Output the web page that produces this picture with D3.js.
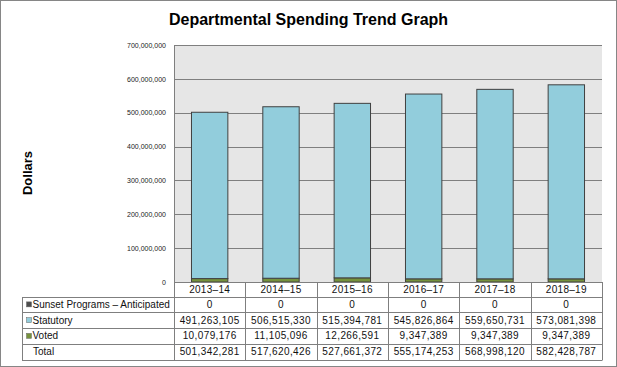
<!DOCTYPE html>
<html>
<head>
<meta charset="utf-8">
<script src="https://cdn.jsdelivr.net/npm/d3@7"></script>
<style>
  html, body { margin: 0; padding: 0; background: #fff; }
  svg { display: block; font-family: "Liberation Sans", Arial, sans-serif; }
</style>
</head>
<body>
<svg id="chart" width="617" height="367"></svg>
<script>
// ---- data ----
const years = ["2013–14", "2014–15", "2015–16", "2016–17", "2017–18", "2018–19"];
const sunset = [0, 0, 0, 0, 0, 0];
const statutory = [491263105, 506515330, 515394781, 545826864, 559650731, 573081398];
const voted = [10079176, 11105096, 12266591, 9347389, 9347389, 9347389];
const totals = [501342281, 517620426, 527661372, 555174253, 568998120, 582428787];
const yTicks = [0, 100000000, 200000000, 300000000, 400000000, 500000000, 600000000, 700000000];
const seriesNames = ["Sunset Programs – Anticipated", "Statutory", "Voted"];
const seriesColors = ["#4d4d4d", "#92cddc", "#76923c"];
const titleText = "Departmental Spending Trend Graph";
const yLabel = "Dollars";

// ---- layout ----
const W = 617, H = 367;
const plot = { left: 174, right: 602, top: 45, bottom: 282 };
const tableLeft = 22;
const headerH = 14.5, rowH = 15.75;

const svg = d3.select("#chart");

// outer border
svg.append("rect").attr("x", 0.5).attr("y", 0.5).attr("width", W - 1).attr("height", H - 1)
  .attr("fill", "#fff").attr("stroke", "#868686");

// title
svg.append("text").attr("x", 308.5).attr("y", 25).attr("text-anchor", "middle")
  .attr("font-size", 16).attr("font-weight", "bold").attr("fill", "#000").text(titleText);

// y label
svg.append("text").attr("transform", "translate(32,173) rotate(-90)")
  .attr("text-anchor", "middle").attr("font-size", 13).attr("font-weight", "bold")
  .attr("fill", "#000").text(yLabel);

const x = d3.scaleBand().domain(years).range([plot.left, plot.right]).padding(0);
const y = d3.scaleLinear().domain([0, 700000000]).range([plot.bottom, plot.top]);

// plot background
svg.append("rect").attr("x", plot.left).attr("y", plot.top)
  .attr("width", plot.right - plot.left).attr("height", plot.bottom - plot.top)
  .attr("fill", "#e6e6e6");

// gridlines
svg.append("g").selectAll("line").data(yTicks.filter(d => d > 0)).join("line")
  .attr("x1", plot.left).attr("x2", plot.right)
  .attr("y1", d => Math.round(y(d)) + 0.5).attr("y2", d => Math.round(y(d)) + 0.5)
  .attr("stroke", "#7f7f7f").attr("stroke-width", 1);

// left border
svg.append("line").attr("x1", plot.left + 0.5).attr("x2", plot.left + 0.5)
  .attr("y1", plot.top).attr("y2", plot.bottom).attr("stroke", "#7f7f7f");

// y axis tick labels
const yAxis = d3.axisLeft(y).tickValues(yTicks).tickSize(0).tickPadding(8)
  .tickFormat(d => d3.format(",")(d));
const yg = svg.append("g").attr("transform", `translate(${plot.left},0)`).call(yAxis);
yg.select(".domain").remove();
yg.selectAll("text").attr("font-size", 7).attr("fill", "#222")
  .attr("font-family", "\"Liberation Sans\", Arial, sans-serif");

// stacked bars
const rows = years.map((yr, i) => ({ year: yr, voted: voted[i], statutory: statutory[i], sunset: sunset[i] }));
const stack = d3.stack().keys(["voted", "statutory", "sunset"]);
const stacked = stack(rows);
const colorByKey = { voted: seriesColors[2], statutory: seriesColors[1], sunset: seriesColors[0] };
const barW = x.bandwidth() * 0.51;

svg.append("g").selectAll("g").data(stacked).join("g")
  .attr("fill", d => colorByKey[d.key])
  .selectAll("rect").data(d => d.filter(s => s[1] - s[0] > 0)).join("rect")
  .attr("x", d => x(d.data.year) + (x.bandwidth() - barW) / 2)
  .attr("width", barW)
  .attr("y", d => y(d[1]))
  .attr("height", d => y(d[0]) - y(d[1]))
  .attr("stroke", "#404040").attr("stroke-width", 1);

// ---- data table ----
const tg = svg.append("g");
const gridColor = "#7f7f7f";
const tableTop = plot.bottom;
const bodyTop = tableTop + headerH;
const tableBottom = bodyTop + rowH * 4;

// header cells (years)
tg.append("line").attr("x1", plot.left).attr("x2", plot.right)
  .attr("y1", tableTop + 0.5).attr("y2", tableTop + 0.5).attr("stroke", gridColor);
// horizontal lines of body
[0, 1, 2, 3, 4].forEach(k => {
  const yy = Math.round(bodyTop + k * rowH) + 0.5;
  tg.append("line").attr("x1", tableLeft).attr("x2", plot.right)
    .attr("y1", yy).attr("y2", yy).attr("stroke", gridColor);
});
// vertical lines
tg.append("line").attr("x1", tableLeft + 0.5).attr("x2", tableLeft + 0.5)
  .attr("y1", Math.round(bodyTop) + 0.5).attr("y2", Math.round(tableBottom) + 0.5).attr("stroke", gridColor);
years.concat(["end"]).forEach((yr, i) => {
  const xx = Math.round(i < years.length ? x(yr) : plot.right) + 0.5;
  tg.append("line").attr("x1", xx).attr("x2", xx)
    .attr("y1", tableTop).attr("y2", Math.round(tableBottom) + 0.5).attr("stroke", gridColor);
});

// year header text
tg.selectAll("text.yr").data(years).join("text").attr("class", "yr")
  .attr("x", d => x(d) + x.bandwidth() / 2).attr("y", tableTop + headerH / 2 + 3.6)
  .attr("text-anchor", "middle").attr("font-size", 10).attr("letter-spacing", 0.3)
  .attr("fill", "#111").text(d => d);

const tableRows = [
  { label: seriesNames[0], color: seriesColors[0], vals: sunset },
  { label: seriesNames[1], color: seriesColors[1], vals: statutory },
  { label: seriesNames[2], color: seriesColors[2], vals: voted },
  { label: "Total", color: null, vals: totals }
];
const fmt = d3.format(",");
tableRows.forEach((r, k) => {
  const cy = bodyTop + k * rowH + rowH / 2;
  if (r.color) {
    tg.append("rect").attr("x", 26.5).attr("y", cy - 2.5).attr("width", 5).attr("height", 5)
      .attr("fill", r.color).attr("stroke", "#666").attr("stroke-width", 0.5);
  }
  tg.append("text").attr("x", r.color ? 32.5 : 33).attr("y", cy + 3.6)
    .attr("font-size", 10).attr("fill", "#111").text(r.label);
  tg.selectAll(null).data(r.vals).join("text")
    .attr("x", (d, i) => x(years[i]) + x.bandwidth() / 2).attr("y", cy + 3.6)
    .attr("text-anchor", "middle").attr("font-size", 10).attr("letter-spacing", 0.4)
    .attr("fill", "#111").text(d => fmt(d));
});
</script>
</body>
</html>
